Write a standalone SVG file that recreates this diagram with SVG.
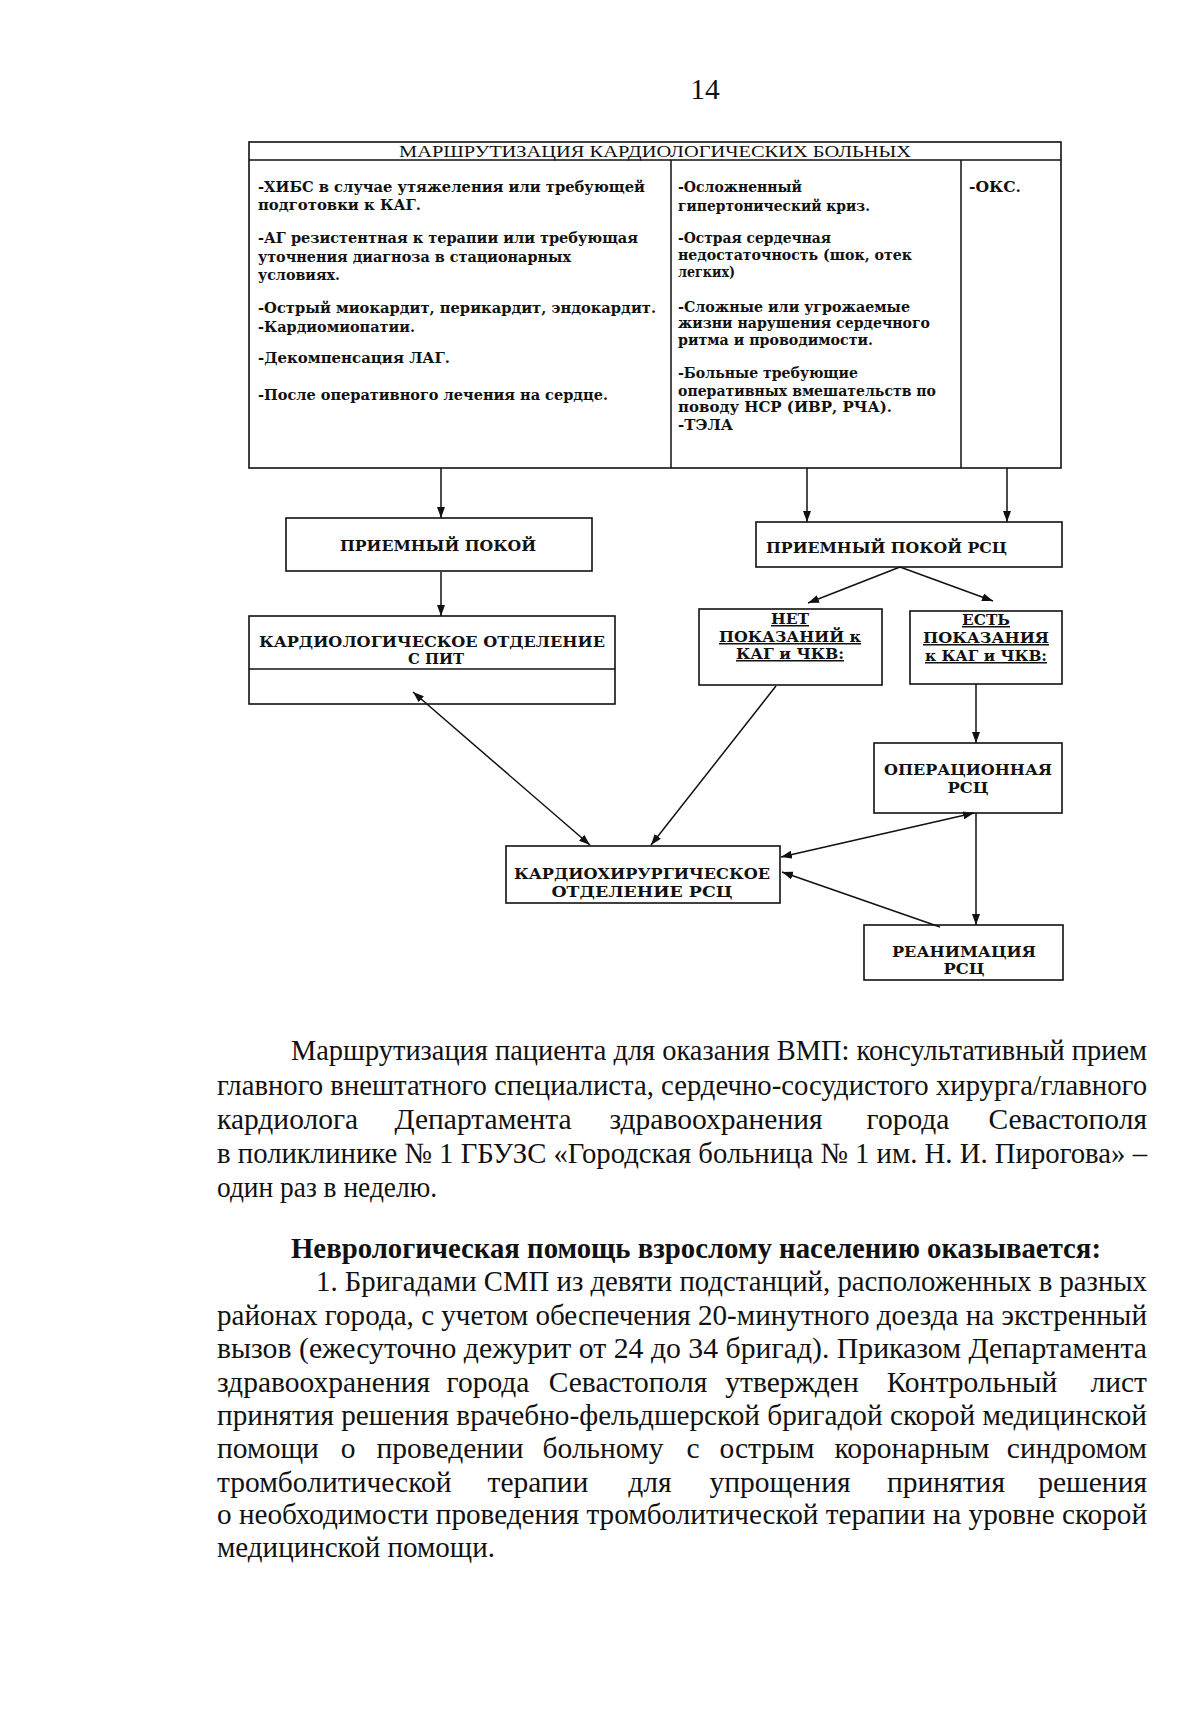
<svg xmlns="http://www.w3.org/2000/svg" width="1200" height="1722" viewBox="0 0 1200 1722">
<defs>
<marker id="ah" viewBox="0 0 11 8" refX="11" refY="4" markerWidth="11" markerHeight="8" markerUnits="userSpaceOnUse" orient="auto-start-reverse"><path d="M0,0 L11,4 L0,8 z" fill="#111"/></marker>
<style>
.box{fill:none;stroke:#111;stroke-width:1.6}
.ln{fill:none;stroke:#111;stroke-width:1.5}
.arr{fill:none;stroke:#111;stroke-width:1.5;marker-end:url(#ah)}
.arr2{fill:none;stroke:#111;stroke-width:1.5;marker-start:url(#ah);marker-end:url(#ah)}
.t{font-family:"DejaVu Serif","Liberation Serif",serif;font-weight:bold;font-size:14.5px;fill:#111}
.n{font-family:"DejaVu Serif","Liberation Serif",serif;font-weight:bold;font-size:15px;fill:#111}
.u{text-decoration:underline}
.title{font-family:"Liberation Serif","Times New Roman",serif;font-size:17px;fill:#111}
.body{font-family:"Liberation Serif","Times New Roman",serif;font-size:29.5px;fill:#111}
.bold{font-weight:bold}
.m{text-anchor:middle}
.e{text-anchor:end}
</style>
</defs>
<rect width="1200" height="1722" fill="#fff"/>

<text x="705" y="99" text-anchor="middle" class="body" font-size="30">14</text>

<g id="routing-box">
<rect class="box" x="249" y="142" width="812" height="326"/>
<line class="ln" x1="249" y1="160" x2="1061" y2="160"/>
<line class="ln" x1="671" y1="160" x2="671" y2="468"/>
<line class="ln" x1="961" y1="160" x2="961" y2="468"/>
<text class="title" x="399" y="157" textLength="512" lengthAdjust="spacingAndGlyphs">МАРШРУТИЗАЦИЯ КАРДИОЛОГИЧЕСКИХ БОЛЬНЫХ</text>
<g class="t">
<text x="258" y="192" textLength="387" lengthAdjust="spacingAndGlyphs">-ХИБС в случае утяжеления или требующей</text>
<text x="258" y="210" textLength="163" lengthAdjust="spacingAndGlyphs">подготовки к КАГ.</text>
<text x="258" y="243" textLength="380" lengthAdjust="spacingAndGlyphs">-АГ резистентная к терапии или требующая</text>
<text x="258" y="262" textLength="313" lengthAdjust="spacingAndGlyphs">уточнения диагноза в стационарных</text>
<text x="258" y="280" textLength="82" lengthAdjust="spacingAndGlyphs">условиях.</text>
<text x="258" y="313" textLength="398" lengthAdjust="spacingAndGlyphs">-Острый миокардит, перикардит, эндокардит.</text>
<text x="258" y="332" textLength="157" lengthAdjust="spacingAndGlyphs">-Кардиомиопатии.</text>
<text x="258" y="363" textLength="192" lengthAdjust="spacingAndGlyphs">-Декомпенсация ЛАГ.</text>
<text x="258" y="400" textLength="350" lengthAdjust="spacingAndGlyphs">-После оперативного лечения на сердце.</text>

<text x="678" y="192" textLength="124" lengthAdjust="spacingAndGlyphs">-Осложненный</text>
<text x="678" y="211" textLength="192" lengthAdjust="spacingAndGlyphs">гипертонический криз.</text>
<text x="678" y="243" textLength="153" lengthAdjust="spacingAndGlyphs">-Острая сердечная</text>
<text x="678" y="260" textLength="234" lengthAdjust="spacingAndGlyphs">недостаточность (шок, отек</text>
<text x="678" y="277" textLength="57" lengthAdjust="spacingAndGlyphs">легких)</text>
<text x="678" y="312" textLength="232" lengthAdjust="spacingAndGlyphs">-Сложные или угрожаемые</text>
<text x="678" y="328" textLength="252" lengthAdjust="spacingAndGlyphs">жизни нарушения сердечного</text>
<text x="678" y="345" textLength="195" lengthAdjust="spacingAndGlyphs">ритма и проводимости.</text>
<text x="678" y="378" textLength="180" lengthAdjust="spacingAndGlyphs">-Больные требующие</text>
<text x="678" y="396" textLength="258" lengthAdjust="spacingAndGlyphs">оперативных вмешательств по</text>
<text x="678" y="412" textLength="214" lengthAdjust="spacingAndGlyphs">поводу НСР (ИВР, РЧА).</text>
<text x="678" y="430" textLength="55" lengthAdjust="spacingAndGlyphs">-ТЭЛА</text>

<text x="969" y="192" textLength="52" lengthAdjust="spacingAndGlyphs">-ОКС.</text>
</g>
</g>

<g id="priemny-pokoy">
<rect class="box" x="286" y="518" width="306" height="53"/>
<text class="n" x="340" y="551" textLength="196" lengthAdjust="spacingAndGlyphs">ПРИЕМНЫЙ ПОКОЙ</text>
</g>

<g id="priemny-pokoy-rsc">
<rect class="box" x="756" y="522" width="306" height="45"/>
<text class="n" x="766" y="553" textLength="241" lengthAdjust="spacingAndGlyphs">ПРИЕМНЫЙ ПОКОЙ РСЦ</text>
</g>

<g id="kardio-otdelenie">
<rect class="box" x="249" y="616" width="366" height="88"/>
<line class="ln" x1="249" y1="669" x2="615" y2="669"/>
<text class="n" x="259" y="647" textLength="346" lengthAdjust="spacingAndGlyphs">КАРДИОЛОГИЧЕСКОЕ ОТДЕЛЕНИЕ</text>
<text class="n" x="408" y="664" textLength="56" lengthAdjust="spacingAndGlyphs">С ПИТ</text>
</g>

<g id="net-pokazaniy">
<rect class="box" x="699" y="609" width="183" height="76"/>
<text class="n u" x="790" y="624" text-anchor="middle" textLength="38" lengthAdjust="spacingAndGlyphs">НЕТ</text>
<text class="n u" x="790" y="642" text-anchor="middle" textLength="142" lengthAdjust="spacingAndGlyphs">ПОКАЗАНИЙ к</text>
<text class="n u" x="790" y="659" text-anchor="middle" textLength="108" lengthAdjust="spacingAndGlyphs">КАГ и ЧКВ:</text>
</g>

<g id="est-pokazaniya">
<rect class="box" x="910" y="611" width="152" height="73"/>
<text class="n u" x="986" y="625" text-anchor="middle" textLength="48" lengthAdjust="spacingAndGlyphs">ЕСТЬ</text>
<text class="n u" x="986" y="643" text-anchor="middle" textLength="126" lengthAdjust="spacingAndGlyphs">ПОКАЗАНИЯ</text>
<text class="n u" x="986" y="661" text-anchor="middle" textLength="122" lengthAdjust="spacingAndGlyphs">к КАГ и ЧКВ:</text>
</g>

<g id="operatsionnaya-rsc">
<rect class="box" x="874" y="743" width="188" height="70"/>
<text class="n" x="968" y="775" text-anchor="middle" textLength="168" lengthAdjust="spacingAndGlyphs">ОПЕРАЦИОННАЯ</text>
<text class="n" x="968" y="793" text-anchor="middle" textLength="41" lengthAdjust="spacingAndGlyphs">РСЦ</text>
</g>

<g id="kardiokhirurgicheskoe">
<rect class="box" x="506" y="846" width="274" height="57"/>
<text class="n" x="642" y="879" text-anchor="middle" textLength="256" lengthAdjust="spacingAndGlyphs">КАРДИОХИРУРГИЧЕСКОЕ</text>
<text class="n" x="642" y="897" text-anchor="middle" textLength="181" lengthAdjust="spacingAndGlyphs">ОТДЕЛЕНИЕ РСЦ</text>
</g>

<g id="reanimatsiya-rsc">
<rect class="box" x="864" y="925" width="199" height="55"/>
<text class="n" x="964" y="957" text-anchor="middle" textLength="144" lengthAdjust="spacingAndGlyphs">РЕАНИМАЦИЯ</text>
<text class="n" x="964" y="974" text-anchor="middle" textLength="41" lengthAdjust="spacingAndGlyphs">РСЦ</text>
</g>

<g id="connectors">
<path class="arr" d="M441,468 V518"/>
<path class="arr" d="M807,468 V522"/>
<path class="arr" d="M1007,468 V522"/>
<path class="arr" d="M441,572 V616"/>
<path class="arr" d="M900,567 L808,603"/>
<path class="arr" d="M900,567 L993,601"/>
<path class="arr" d="M976,684 V743"/>
<path class="arr2" d="M413,692 L590,845"/>
<path class="arr" d="M776,686 L651,845"/>
<path class="arr2" d="M974,813 L781,857"/>
<path class="arr" d="M976,813 V925"/>
<path class="arr" d="M940,927 L782,872"/>
</g>

<g id="body-text" class="body">
<text x="291" y="1060" textLength="856" lengthAdjust="spacingAndGlyphs">Маршрутизация пациента для оказания ВМП: консультативный прием</text>
<text x="217" y="1095" textLength="930" lengthAdjust="spacingAndGlyphs">главного внештатного специалиста, сердечно-сосудистого хирурга/главного</text>
<text x="217" y="1129">кардиолога</text>
<text class="m" x="483" y="1129">Департамента</text>
<text class="m" x="716" y="1129">здравоохранения</text>
<text class="m" x="908" y="1129">города</text>
<text class="e" x="1147" y="1129">Севастополя</text>
<text x="217" y="1163" textLength="930" lengthAdjust="spacingAndGlyphs">в поликлинике № 1 ГБУЗС «Городская больница № 1 им. Н. И. Пирогова» –</text>
<text x="217" y="1197" textLength="220" lengthAdjust="spacingAndGlyphs">один раз в неделю.</text>

<text class="bold" x="291" y="1258" textLength="810" lengthAdjust="spacingAndGlyphs">Неврологическая помощь взрослому населению оказывается:</text>
<text x="316" y="1291" textLength="831" lengthAdjust="spacingAndGlyphs">1. Бригадами СМП из девяти подстанций, расположенных в разных</text>
<text x="217" y="1325" textLength="930" lengthAdjust="spacingAndGlyphs">районах города, с учетом обеспечения 20-минутного доезда на экстренный</text>
<text x="217" y="1358" textLength="930" lengthAdjust="spacingAndGlyphs">вызов (ежесуточно дежурит от 24 до 34 бригад). Приказом Департамента</text>
<text x="217" y="1392">здравоохранения</text>
<text class="m" x="488" y="1392">города</text>
<text class="m" x="628" y="1392">Севастополя</text>
<text class="m" x="792" y="1392">утвержден</text>
<text class="m" x="972" y="1392">Контрольный</text>
<text class="e" x="1147" y="1392">лист</text>
<text x="217" y="1425" textLength="930" lengthAdjust="spacingAndGlyphs">принятия решения врачебно-фельдшерской бригадой скорой медицинской</text>
<text x="217" y="1458">помощи</text>
<text class="m" x="348" y="1458">о</text>
<text class="m" x="450" y="1458">проведении</text>
<text class="m" x="603" y="1458">больному</text>
<text class="m" x="693" y="1458">с</text>
<text class="m" x="767" y="1458">острым</text>
<text class="m" x="912" y="1458">коронарным</text>
<text class="e" x="1147" y="1458">синдромом</text>
<text x="217" y="1492">тромболитической</text>
<text class="m" x="538" y="1492">терапии</text>
<text class="m" x="650" y="1492">для</text>
<text class="m" x="780" y="1492">упрощения</text>
<text class="m" x="946" y="1492">принятия</text>
<text class="e" x="1147" y="1492">решения</text>
<text x="217" y="1524" textLength="930" lengthAdjust="spacingAndGlyphs">о необходимости проведения тромболитической терапии на уровне скорой</text>
<text x="217" y="1557" textLength="278" lengthAdjust="spacingAndGlyphs">медицинской помощи.</text>
</g>
</svg>
